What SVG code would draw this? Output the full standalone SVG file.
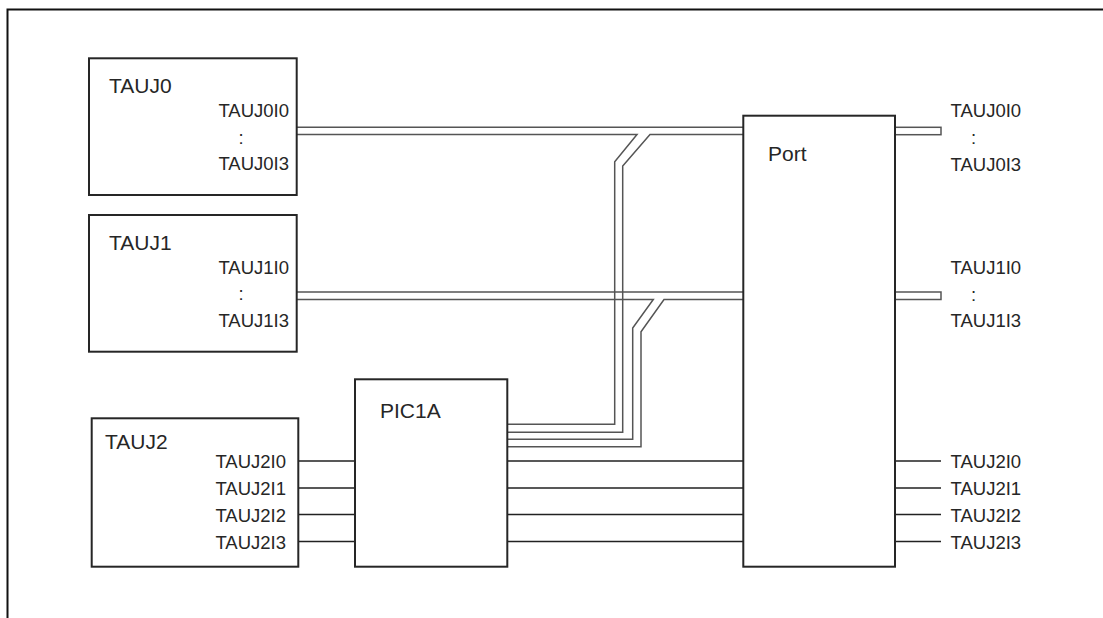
<svg xmlns="http://www.w3.org/2000/svg" width="1103" height="618" viewBox="0 0 1103 618">
<style>
.box{fill:#fff;stroke:#262626;stroke-width:2}
.t{font-family:"Liberation Sans",Arial,sans-serif;fill:#262626}
.title{font-size:21px}
.lbl{font-size:18.5px}
.bus{fill:none;stroke:#555;stroke-width:1.5}
.sig{fill:none;stroke:#222;stroke-width:1.6}
</style>
<rect width="1103" height="618" fill="#fff"/>
<path id="frame" d="M7.5,618 V9.5 H1103" fill="none" stroke="#111" stroke-width="2"/>

<g id="connectors">
  <!-- TAUJ0 bus -->
  <path class="bus" d="M297,127.3 H743"/>
  <path class="bus" d="M297,134.6 H637 L614.7,161.7 V424.3 H507"/>
  <path class="bus" d="M743,134.6 H650 L622.7,166 V432.3 H507"/>
  <!-- TAUJ1 bus -->
  <path class="bus" d="M297,292 H743"/>
  <path class="bus" d="M297,299.5 H653.3 L632.7,328 V439.3 H507"/>
  <path class="bus" d="M743,299.5 H664 L641,331.7 V446.7 H507"/>
  <!-- Port outputs (buses) -->
  <rect class="bus" x="895" y="127.3" width="46" height="7.4"/>
  <rect class="bus" x="895" y="292" width="46" height="7.5"/>
  <!-- TAUJ2 signals -->
  <path class="sig" d="M298,461 H355 M298,488 H355 M298,514.5 H355 M298,541.5 H355"/>
  <path class="sig" d="M507,461 H743 M507,488 H743 M507,514.5 H743 M507,541.5 H743"/>
  <path class="sig" d="M895,461 H941 M895,488 H941 M895,514.5 H941 M895,541.5 H941"/>
</g>

<g id="TAUJ0">
  <rect class="box" x="89" y="58.3" width="207.7" height="136.7"/>
  <text class="t title" x="109" y="92.7">TAUJ0</text>
  <text class="t lbl" x="289" y="117.3" text-anchor="end">TAUJ0I0</text>
  <text class="t lbl" x="241" y="143.5" text-anchor="middle">:</text>
  <text class="t lbl" x="289" y="170.3" text-anchor="end">TAUJ0I3</text>
</g>

<g id="TAUJ1">
  <rect class="box" x="89" y="215" width="207.7" height="136.7"/>
  <text class="t title" x="109" y="249.5">TAUJ1</text>
  <text class="t lbl" x="289" y="274" text-anchor="end">TAUJ1I0</text>
  <text class="t lbl" x="241" y="300.2" text-anchor="middle">:</text>
  <text class="t lbl" x="289" y="327" text-anchor="end">TAUJ1I3</text>
</g>

<g id="TAUJ2">
  <rect class="box" x="91.7" y="418.3" width="206.6" height="148.4"/>
  <text class="t title" x="105" y="449">TAUJ2</text>
  <text class="t lbl" x="286" y="468.3" text-anchor="end">TAUJ2I0</text>
  <text class="t lbl" x="286" y="495.3" text-anchor="end">TAUJ2I1</text>
  <text class="t lbl" x="286" y="522" text-anchor="end">TAUJ2I2</text>
  <text class="t lbl" x="286" y="548.5" text-anchor="end">TAUJ2I3</text>
</g>

<g id="PIC1A">
  <rect class="box" x="355" y="379.3" width="152.3" height="187.4"/>
  <text class="t title" x="380" y="418.3">PIC1A</text>
</g>

<g id="Port">
  <rect class="box" x="743.3" y="115.7" width="151.7" height="451"/>
  <text class="t title" x="768" y="161">Port</text>
</g>

<g id="outputs">
  <text class="t lbl" x="950.5" y="116.7">TAUJ0I0</text>
  <text class="t lbl" x="973.5" y="144" text-anchor="middle">:</text>
  <text class="t lbl" x="950.5" y="170.7">TAUJ0I3</text>
  <text class="t lbl" x="950.5" y="274">TAUJ1I0</text>
  <text class="t lbl" x="973.5" y="300.5" text-anchor="middle">:</text>
  <text class="t lbl" x="950.5" y="326.7">TAUJ1I3</text>
  <text class="t lbl" x="950.5" y="468.3">TAUJ2I0</text>
  <text class="t lbl" x="950.5" y="495.3">TAUJ2I1</text>
  <text class="t lbl" x="950.5" y="522">TAUJ2I2</text>
  <text class="t lbl" x="950.5" y="548.5">TAUJ2I3</text>
</g>
</svg>
